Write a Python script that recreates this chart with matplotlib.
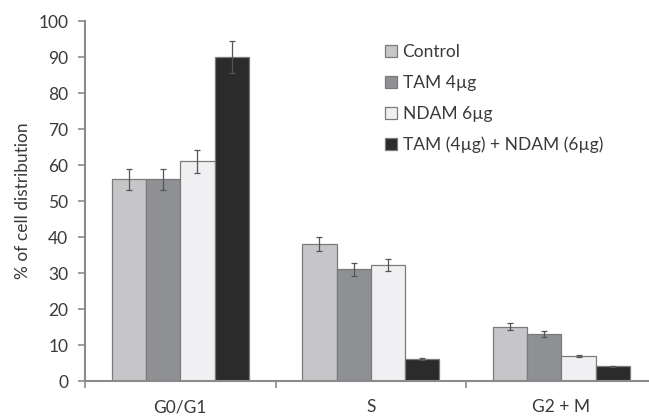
import matplotlib.pyplot as plt
import numpy as np

plt.rcParams['font.family'] = ['Lato', 'DejaVu Sans']

phases = ['G0/G1', 'S', 'G2 + M']
groups = ['Control', 'TAM 4µg', 'NDAM 6µg', 'TAM (4µg) + NDAM (6µg)']
values = [
    [56, 38, 15.1],
    [56, 31, 13],
    [61, 32.2, 6.9],
    [90, 6.2, 4.1],
]
errors = [
    [3, 2, 0.9],
    [3, 1.7, 0.8],
    [3.1, 1.7, 0.3],
    [4.4, 0.3, 0.15],
]
colors = ['#c6c6c8', '#8f9093', '#f0f0f2', '#2b2b2b']

txt = '#3a3a3a'
axc = '#8a8a8a'

fig = plt.figure(figsize=(6.49, 4.16), dpi=100)
ax = fig.add_axes([85/649, 35/416, 564/649, 360/416])

x = np.arange(len(phases))
w = 0.18
for i, (vals, errs, c) in enumerate(zip(values, errors, colors)):
    ax.bar(x + (i - 1.5)*w, vals, w, color=c, edgecolor='#7a7a7a', linewidth=0.9,
           yerr=errs, error_kw=dict(ecolor='#555555', elinewidth=0.9, capsize=2.5, capthick=0.9),
           label=groups[i], zorder=2)

ax.set_xlim(-0.5, 2.46)
ax.set_ylim(0, 100)
ax.set_yticks(range(0, 101, 10))
ax.set_xticks(x)
ax.set_xticklabels(phases)
ax.set_xticks([-0.5, 0.5, 1.5], minor=True)
ax.tick_params(axis='x', which='major', length=0, pad=13, labelsize=12.5, labelcolor=txt)
ax.tick_params(axis='x', which='minor', length=5, color=axc, width=1.2)
ax.tick_params(axis='y', length=5, color=axc, width=1.2, pad=7, labelsize=12.5, labelcolor=txt)

for s in ['top', 'right']:
    ax.spines[s].set_visible(False)
for s in ['left', 'bottom']:
    ax.spines[s].set_color(axc)
    ax.spines[s].set_linewidth(1.5)

ax.set_ylabel('% of cell distribution', fontsize=12.5, color=txt, labelpad=5)

leg = ax.legend(loc='upper left', bbox_to_anchor=(0.52, 0.955), frameon=False,
                fontsize=12.5, handlelength=0.7, handleheight=0.7, handletextpad=0.3,
                labelspacing=0.85, borderaxespad=0)
for t in leg.get_texts():
    t.set_color(txt)

fig.savefig('out.png', dpi=100)
